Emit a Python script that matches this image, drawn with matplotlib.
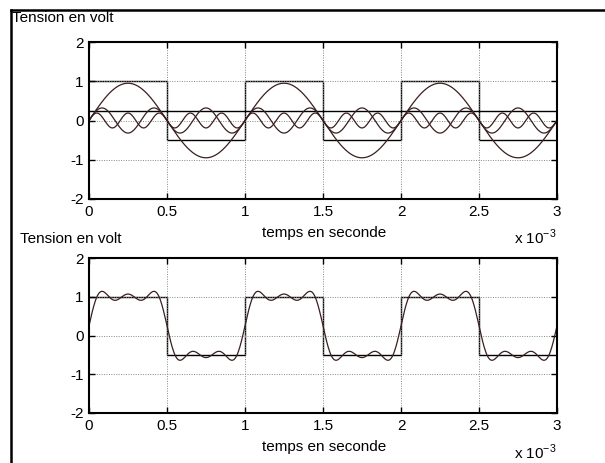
import numpy as np
import matplotlib
matplotlib.use("Agg")
import matplotlib.pyplot as plt
from matplotlib.lines import Line2D

plt.rcParams['font.family'] = ['Liberation Sans', 'DejaVu Sans']

# Signal carré (en ms) et ses harmoniques
square_edges = [0, 0.5, 1.0, 1.5, 2.0, 2.5, 3.0]
square_levels = [1, -0.5, 1, -0.5, 1, -0.5]
dc_level = 0.25
harmonic_orders = [1, 3, 5]
harmonic_amplitudes = [0.95, 0.32, 0.19]
period_ms = 1.0

x_ticks = [0, 0.5, 1, 1.5, 2, 2.5, 3]
x_ticklabels = ['0', '0.5', '1', '1.5', '2', '2.5', '3']
y_ticks = [-2, -1, 0, 1, 2]
y_ticklabels = ['-2', '-1', '0', '1', '2']

curve_color = '#3a1f1f'
fs = 11

t = np.linspace(0, 3, 901)
harmonics = [a * np.sin(2 * np.pi * n * t / period_ms)
             for n, a in zip(harmonic_orders, harmonic_amplitudes)]
somme = dc_level + np.sum(harmonics, axis=0)

fig = plt.figure(figsize=(6.05, 4.63), dpi=100)
W, H = 605, 463


def make_axes(top, bottom):
    ax = fig.add_axes([89 / W, 1 - bottom / H, (557 - 89) / W, (bottom - top) / H])
    ax.set_xlim(0, 3)
    ax.set_ylim(-2, 2)
    ax.set_xticks(x_ticks)
    ax.set_xticklabels(x_ticklabels)
    ax.set_yticks(y_ticks)
    ax.set_yticklabels(y_ticklabels)
    ax.tick_params(direction='in', length=4, width=1, labelsize=fs, pad=4,
                   top=True, right=True)
    ax.grid(True, color='#888888', linestyle=(0, (1, 1.5)), linewidth=0.7)
    for sp in ax.spines.values():
        sp.set_linewidth(1.5)
    return ax


# Premier graphe : signal, composante continue et harmoniques
ax1 = make_axes(42, 199)
ax1.stairs(square_levels, square_edges, baseline=None, color='black', linewidth=1)
ax1.axhline(dc_level, color='black', linewidth=1)
for h in harmonics:
    ax1.plot(t, h, color=curve_color, linewidth=0.9)

# Deuxième graphe : somme des harmoniques
ax2 = make_axes(258, 413)
ax2.stairs(square_levels, square_edges, baseline=None, color='black', linewidth=1)
ax2.plot(t, somme, color=curve_color, linewidth=0.9)

# Textes
fig.text(12 / W, 1 - 18 / H, 'Tension en volt', fontsize=fs, va='center', ha='left')
fig.text(20 / W, 1 - 239 / H, 'Tension en volt', fontsize=fs, va='center', ha='left')
fig.text(324 / W, 1 - 233 / H, 'temps en seconde', fontsize=fs, va='center', ha='center')
fig.text(324 / W, 1 - 447 / H, 'temps en seconde', fontsize=fs, va='center', ha='center')
fig.text(514 / W, 1 - 237 / H, r'x 10$^{\mathregular{-3}}$', fontsize=fs, va='center', ha='left')
fig.text(514 / W, 1 - 452 / H, r'x 10$^{\mathregular{-3}}$', fontsize=fs, va='center', ha='left')

# Cadre de la fenêtre
fig.add_artist(Line2D([11 / W, 11 / W], [0, 1 - 10 / H], color='black', linewidth=1.8,
                      transform=fig.transFigure))
fig.add_artist(Line2D([11 / W, 1], [1 - 10 / H, 1 - 10 / H], color='black', linewidth=1.8,
                      transform=fig.transFigure))

fig.savefig('out.png', dpi=100)
